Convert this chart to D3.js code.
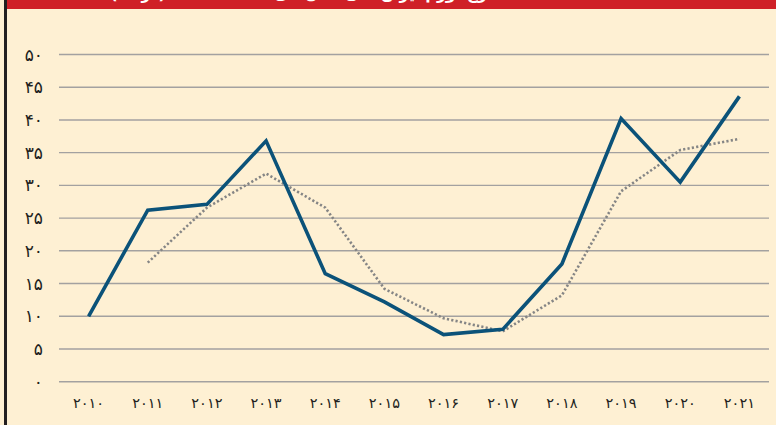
<!DOCTYPE html>
<html>
<head>
<meta charset="utf-8">
<script src="https://cdn.jsdelivr.net/npm/d3@7"></script>
<style>
  html, body { margin: 0; padding: 0; background: #fef0d3; }
  svg { display: block; }
  .tick-label { font-family: "DejaVu Sans", sans-serif; fill: #231f20; }
</style>
</head>
<body>
<div id="chart"></div>
<script>
// ── Data ─────────────────────────────────────────────────────────────
const years   = ['۲۰۱۰','۲۰۱۱','۲۰۱۲','۲۰۱۳','۲۰۱۴','۲۰۱۵','۲۰۱۶','۲۰۱۷','۲۰۱۸','۲۰۱۹','۲۰۲۰','۲۰۲۱'];
const actual  = [10, 26.2, 27.1, 36.8, 16.5, 12.2, 7.2, 8.0, 18.0, 40.2, 30.5, 43.6];
// trend (dotted) line, starts from the second year
const trend   = [null, 18.2, 26.6, 31.8, 26.6, 14.2, 9.7, 7.7, 13.2, 29.1, 35.4, 37.1];
const yTicks  = [0, 5, 10, 15, 20, 25, 30, 35, 40, 45, 50];
const yLabels = ['۰','۵','۱۰','۱۵','۲۰','۲۵','۳۰','۳۵','۴۰','۴۵','۵۰'];
const title   = 'نرخ تورم ایران طی سال‌های ۲۰۱۰ تا ۲۰۲۱ (درصد)';

const W = 776, H = 425;
const svg = d3.select('#chart').append('svg').attr('width', W).attr('height', H);

// background + frame
svg.append('rect').attr('width', W).attr('height', H).attr('fill', '#fef0d3');
svg.append('rect').attr('x', 6).attr('y', 0).attr('width', W - 6).attr('height', 9).attr('fill', '#cf2027');
// title bar is cropped at the top in the original; only the glyph tails show
svg.append('text')
  .attr('x', 302).attr('y', -1)
  .attr('text-anchor', 'middle')
  .attr('font-family', 'DejaVu Sans, sans-serif')
  .attr('font-weight', 'bold').attr('font-size', 15.5)
  .attr('fill', '#fff')
  .attr('direction', 'rtl')
  .text(title);
svg.append('rect').attr('x', 4).attr('y', 0).attr('width', 3).attr('height', H).attr('fill', '#231f20');

// ── Scales ───────────────────────────────────────────────────────────
const x = d3.scaleBand().domain(years).range([59, 769]);
const y = d3.scaleLinear().domain([0, 50]).range([381.7, 54.5]);
const cx = d => x(d) + x.bandwidth() / 2;

// gridlines
svg.append('g').selectAll('line').data(yTicks).join('line')
  .attr('x1', 59).attr('x2', 769)
  .attr('y1', d => y(d)).attr('y2', d => y(d))
  .attr('stroke', '#a3a1a0').attr('stroke-width', 1.4);

// y labels
svg.append('g').selectAll('text').data(yTicks).join('text')
  .attr('class', 'tick-label')
  .attr('x', 43).attr('y', d => y(d) + 6)
  .attr('text-anchor', 'end')
  .attr('font-size', 17)
  .text((d, i) => yLabels[i]);

// x labels
svg.append('g').selectAll('text').data(years).join('text')
  .attr('class', 'tick-label')
  .attr('x', d => cx(d)).attr('y', 408)
  .attr('text-anchor', 'middle')
  .attr('font-size', 14.5)
  .text(d => d);

// ── Lines ────────────────────────────────────────────────────────────
const line = d3.line()
  .defined(d => d[1] != null)
  .x(d => cx(d[0])).y(d => y(d[1]));

svg.append('path')
  .datum(years.map((yr, i) => [yr, trend[i]]))
  .attr('d', line)
  .attr('fill', 'none')
  .attr('stroke', '#858585')
  .attr('stroke-width', 2.6)
  .attr('stroke-dasharray', '2.2 2.2')
  .attr('stroke-linejoin', 'round');

svg.append('path')
  .datum(years.map((yr, i) => [yr, actual[i]]))
  .attr('d', line)
  .attr('fill', 'none')
  .attr('stroke', '#0b5279')
  .attr('stroke-width', 3.6)
  .attr('stroke-linejoin', 'miter');
</script>
</body>
</html>
